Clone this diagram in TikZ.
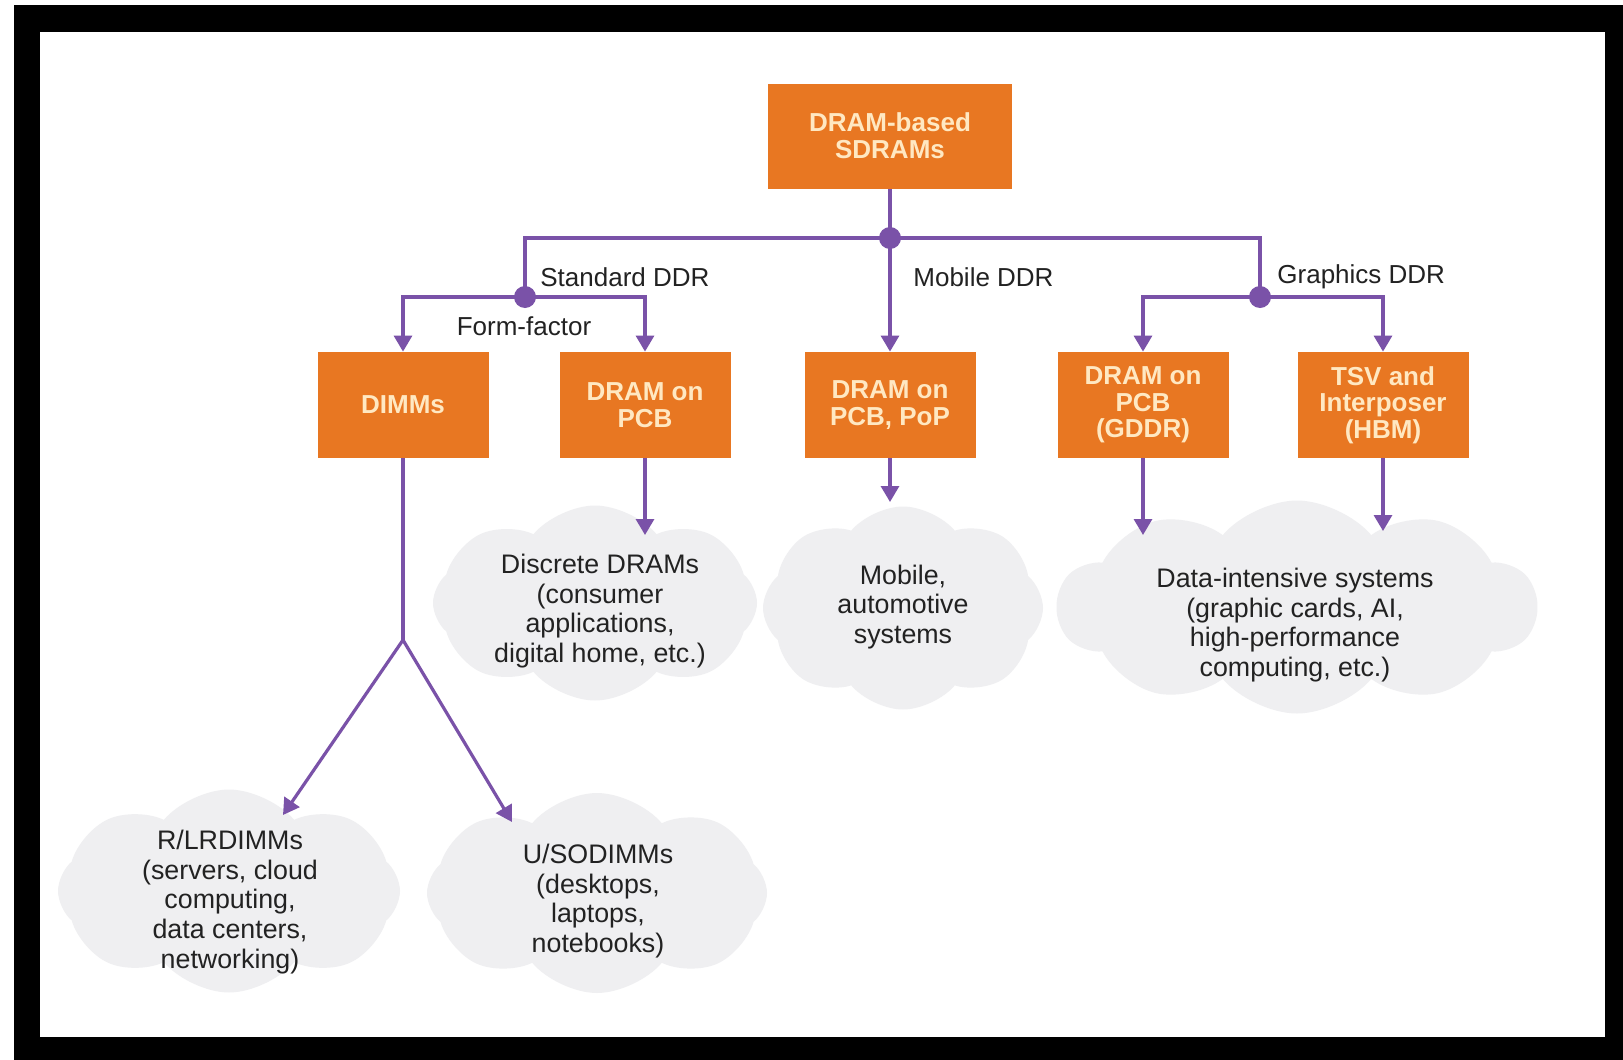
\documentclass[tikz,border=0pt]{standalone}
\usepackage{fontspec}
\setmainfont{Liberation Sans}
\usetikzlibrary{shapes.symbols,arrows.meta}
\definecolor{dorange}{HTML}{E87722}
\definecolor{dcream}{HTML}{FFE8C2}
\definecolor{dpurple}{HTML}{7A52A8}
\definecolor{dcloud}{HTML}{EFEFF1}
\definecolor{dtext}{HTML}{222222}
\begin{document}
\begin{tikzpicture}[x=0.5pt,y=-0.5pt,
 box/.style={rectangle, fill=dorange, minimum width=85.5pt, minimum height=53pt, inner sep=0pt, text=dcream, font=\fontsize{13}{13.3}\selectfont\bfseries, align=center},
 conn/.style={draw=dpurple, line width=1.6pt},
 arr/.style={conn, -{Triangle[width=9pt,length=8pt]}},
 jdot/.style={circle, fill=dpurple, minimum size=11pt, inner sep=0pt},
 lbl/.style={text=dtext, font=\fontsize{13}{15}\selectfont, inner sep=0pt, anchor=west},
 cloudbg/.style={cloud, cloud puffs=8, cloud puff arc=100, cloud ignores aspect, fill=dcloud, draw=none, inner sep=0pt},
 ctext/.style={text=dtext, font=\fontsize{13.4}{14.8}\selectfont, align=center, inner sep=0pt}]
\useasboundingbox (0,0) rectangle (1623,1060);
\fill[white] (0,0) rectangle (1623,1060);
\fill[black] (14,5) rectangle (1623,1060);
\fill[white] (40,32) rectangle (1605,1037);

% clouds
\node[cloudbg, minimum width=162pt, minimum height=97.5pt] (c1) at (595,603) {};
\node[cloudbg, minimum width=140pt, minimum height=101.5pt] (c2) at (903,608) {};
\node[cloudbg, cloud puffs=10, minimum width=239.5pt, minimum height=106.5pt] (c3) at (1297,607) {};
\node[cloudbg, minimum width=171pt, minimum height=101.5pt] (c4) at (229,891) {};
\node[cloudbg, minimum width=170pt, minimum height=100pt] (c5) at (597,893) {};

\node[ctext] (t1) at (600,611) {Discrete DRAMs\\(consumer\\applications,\\digital home, etc.)};
\node[ctext] (t2) at (903,607) {Mobile,\\automotive\\systems};
\node[ctext] (t3) at (1295,625) {Data-intensive systems\\(graphic cards, AI,\\high-performance\\computing, etc.)};
\node[ctext] (t4) at (230,902) {R/LRDIMMs\\(servers, cloud\\computing,\\data centers,\\networking)};
\node[ctext] (t5) at (598,901) {U/SODIMMs\\(desktops,\\laptops,\\notebooks)};

% boxes
\node[box, minimum width=122pt, minimum height=52.5pt] (top) at (890,136) {DRAM-based\\SDRAMs};
\node[box] (dimm) at (403,405) {DIMMs};
\node[box] (pcb) at (645,405) {DRAM on\\PCB};
\node[box] (mob) at (890,405) {DRAM on\\PCB, PoP};
\node[box] (gddr) at (1143,405) {DRAM on\\PCB\\(GDDR)};
\node[box] (hbm) at (1383,405) {TSV and\\Interposer\\(HBM)};

% junctions
\coordinate (d0) at (890,238);
\coordinate (d1) at (525,297);
\coordinate (d2) at (1260,297);
\coordinate (split) at (403,640);
\coordinate (a1) at (645,535);
\coordinate (a2) at (890,502);
\coordinate (a3) at (1143,535);
\coordinate (a4) at (1383,531);
\coordinate (a5) at (283,815);
\coordinate (a6) at (512,822);

\draw[conn] (top.south) -- (d0);
\draw[conn] (d1) |- (d0) -| (d2);
\draw[arr] (d0) -- (mob.north);
\draw[arr] (d1) -| (dimm.north);
\draw[arr] (d1) -| (pcb.north);
\draw[arr] (d2) -| (gddr.north);
\draw[arr] (d2) -| (hbm.north);
\draw[arr] (pcb.south) -- (a1);
\draw[arr] (mob.south) -- (a2);
\draw[arr] (gddr.south) -- (a3);
\draw[arr] (hbm.south) -- (a4);
\draw[conn] (dimm.south) -- (split);
\draw[arr] (split) -- (a5);
\draw[arr] (split) -- (a6);

\node[jdot] (j0) at (d0) {};
\node[jdot] (j1) at (d1) {};
\node[jdot] (j2) at (d2) {};

% labels
\node[lbl] (l1) at (540,277) {Standard DDR};
\node[lbl, anchor=center] (l2) at (524,326) {Form-factor};
\node[lbl] (l3) at (913,277) {Mobile DDR};
\node[lbl] (l4) at (1277,277) {Graphics DDR};
\end{tikzpicture}
\end{document}
